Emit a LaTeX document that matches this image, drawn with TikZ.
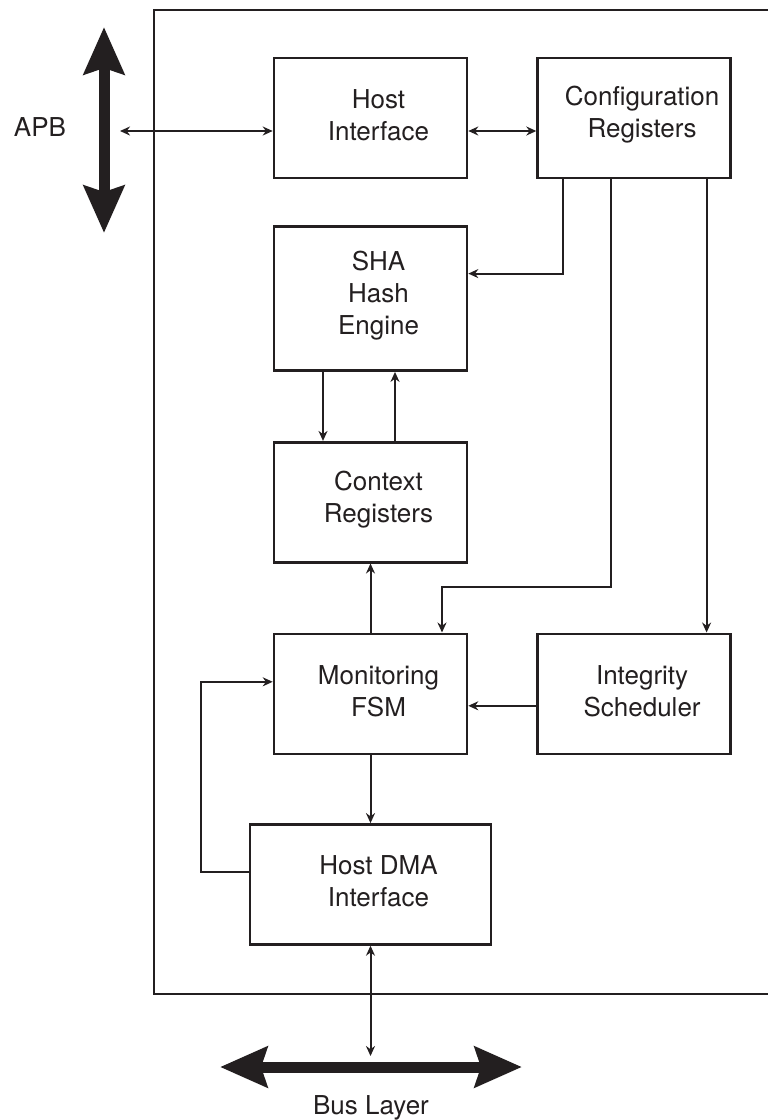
\documentclass[tikz,border=0pt]{standalone}
\usepackage{fontspec}
\setmainfont{TeX Gyre Heros}
\usetikzlibrary{arrows.meta,positioning}
\definecolor{ink}{HTML}{231F20}
\tikzset{
  blk/.style={draw=ink,line width=2.6pt,minimum width=193pt,minimum height=120pt,inner sep=0pt,label={[boxtxt]center:#1}},
  boxtxt/.style={align=center,text=ink,font=\fontsize{26}{32}\selectfont,xshift=8pt,yshift=3pt},
  arr/.style={-{Stealth[length=10pt,width=9pt]},line width=2pt,color=ink},
  darr/.style={{Stealth[length=10pt,width=9pt]}-{Stealth[length=10pt,width=9pt]},line width=2pt,color=ink},
  bigarr/.style={{Stealth[length=47pt,width=40pt,inset=6pt]}-{Stealth[length=47pt,width=40pt,inset=6pt]},line width=11pt,color=ink},
  lbl/.style={text=ink,font=\fontsize{26}{32}\selectfont}}
\begin{document}
\begin{tikzpicture}[x=1pt,y=-1pt]
\useasboundingbox (0,0) rectangle (768,1120);
\node[blk={Host\\Interface}] (hif) at (370.5,118) {};
\node[blk={Configuration\\Registers},right=68pt of hif] (cfg) {};
\node[blk={SHA\\Hash\\Engine},minimum height=144pt,below=46pt of hif] (sha) {};
\node[blk={Context\\Registers},below=69pt of sha] (ctx) {};
\node[blk={Monitoring\\FSM},below=69pt of ctx] (fsm) {};
\node[blk={Integrity\\Scheduler},right=68pt of fsm] (isch) {};
\node[blk={Host DMA\\Interface},minimum width=241pt,below=68pt of fsm] (dma) {};
% chip boundary, open to the right
\draw[ink,line width=2pt] (768,10) -- (154,10) -- (154,994) -- (768,994);
% external buses
\coordinate (apbtop) at (104,27);
\coordinate (apbbot) at (104,233);
\coordinate (apbtip) at (120,131);
\draw[bigarr] (apbtop) -- (apbbot);
\node[lbl] (apb) at (40,127) {APB};
\coordinate (busl) at (220,1067);
\coordinate (busr) at (522,1067);
\coordinate (bustap) at (370.5,1056);
\draw[bigarr] (busl) -- (busr);
\node[lbl] (bus) at (371,1108) {Bus Layer};
% connections
\draw[darr] (apbtip) -- (apbtip -| hif.west);
\draw[darr] (hif.east |- apbtip) -- (cfg.west |- apbtip);
\draw[arr] ([xshift=-71.5pt]cfg.south) |- ([yshift=25pt]sha.east);
\draw[arr] ([xshift=-23.5pt]cfg.south) -- ++(0,408) -| ([xshift=71.5pt]fsm.north);
\draw[arr] ([xshift=72.5pt]cfg.south) -- ([xshift=72.5pt]isch.north);
\draw[arr] ([xshift=-47.5pt]sha.south) -- ([xshift=-47.5pt]ctx.north);
\draw[arr] ([xshift=24.5pt]ctx.north) -- ([xshift=24.5pt]sha.south);
\draw[arr] (fsm) -- (ctx);
\draw[arr] (fsm) -- (dma);
\draw[arr] ([yshift=-12pt]isch.west) -- ([yshift=-12pt]fsm.east);
\draw[arr] ([yshift=12pt]dma.west) -- ++(-48,0) |- ([yshift=12pt]fsm.west);
\draw[darr] (dma.south) -- (bustap);
\end{tikzpicture}
\end{document}
